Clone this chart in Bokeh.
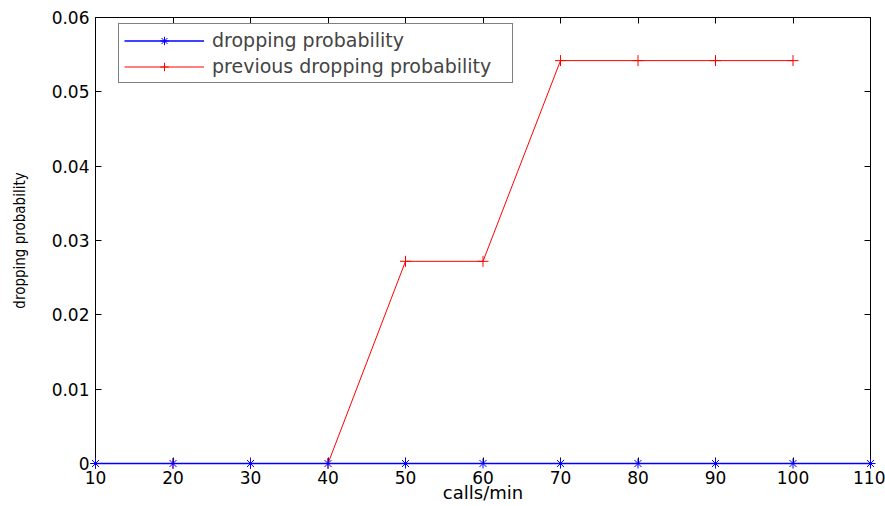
from bokeh.plotting import figure
from bokeh.models import FixedTicker, LinearAxis, Range1d, Legend, LegendItem
from bokeh.embed import file_html
from bokeh.resources import INLINE

calls = [10, 20, 30, 40, 50, 60, 70, 80, 90, 100, 110]
dropping = [0, 0, 0, 0, 0, 0, 0, 0, 0, 0, 0]
prev_calls = [10, 20, 30, 40, 50, 60, 70, 80, 90, 100]
prev_dropping = [0, 0, 0, 0, 0.0272, 0.0272, 0.0542, 0.0542, 0.0542, 0.0542]

x_ticks = [10, 20, 30, 40, 50, 60, 70, 80, 90, 100, 110]
y_ticks = [0, 0.01, 0.02, 0.03, 0.04, 0.05, 0.06]
y_tick_labels = ["0", "0.01", "0.02", "0.03", "0.04", "0.05", "0.06"]

p = figure(width=885, height=506, output_backend="svg", toolbar_location=None,
           x_range=Range1d(10, 110), y_range=Range1d(0, 0.06),
           min_border_left=95, min_border_right=15, min_border_top=17, min_border_bottom=43,
           x_axis_label="calls/min", y_axis_label="dropping probability")
p.grid.visible = False
p.outline_line_color = "black"
p.outline_line_width = 1
p.background_fill_color = "white"
p.border_fill_color = "white"

font = "DejaVu Sans"
for ax in p.xaxis + p.yaxis:
    ax.major_tick_in = 6
    ax.major_tick_out = 0
    ax.minor_tick_in = 0
    ax.minor_tick_out = 0
    ax.major_label_text_font = font
    ax.major_label_text_font_size = "17px"
    ax.major_label_text_color = "black"
    ax.axis_line_color = "black"
    ax.axis_label_text_font_style = "normal"
    ax.axis_label_text_color = "black"

p.xaxis.ticker = FixedTicker(ticks=x_ticks)
p.yaxis.ticker = FixedTicker(ticks=y_ticks)
p.yaxis.major_label_overrides = {t: l for t, l in zip(y_ticks, y_tick_labels)}
p.xaxis.major_label_standoff = 7
p.yaxis.major_label_standoff = 6
p.xaxis.axis_label_text_font = font
p.xaxis.axis_label_text_font_size = "18px"
p.xaxis.axis_label_standoff = -5
p.yaxis.axis_label_text_font = "'Liberation Sans Narrow', 'DejaVu Sans Condensed', 'Roboto Condensed', sans-serif"
p.yaxis.axis_label_text_font_size = "15px"
p.yaxis.axis_label_standoff = 20

top = LinearAxis(ticker=FixedTicker(ticks=x_ticks), major_tick_in=6, major_tick_out=0,
                 minor_tick_in=0, minor_tick_out=0, major_label_text_font_size="0px",
                 axis_line_color="black")
right = LinearAxis(ticker=FixedTicker(ticks=y_ticks), major_tick_in=6, major_tick_out=0,
                   minor_tick_in=0, minor_tick_out=0, major_label_text_font_size="0px",
                   axis_line_color="black")
top.major_label_text_color = None
right.major_label_text_color = None
p.add_layout(top, "above")
p.add_layout(right, "right")

r_prev_line = p.line(prev_calls, prev_dropping, line_color="red", line_width=1)
r_prev_mark = p.scatter(prev_calls, prev_dropping, marker="cross", size=11,
                        line_color="red", line_width=1)
r_line = p.line(calls, dropping, line_color="blue", line_width=1.5)
r_mark = p.scatter(calls, dropping, marker="asterisk", size=10,
                   line_color="blue", line_width=1)
for r in (r_prev_line, r_prev_mark, r_line, r_mark):
    r.level = "overlay"

legend = Legend(items=[
    LegendItem(label="dropping probability", renderers=[r_line, r_mark]),
    LegendItem(label="previous dropping probability", renderers=[r_prev_line, r_prev_mark]),
], location=(23, 380))
legend.label_text_font = font
legend.label_text_font_size = "19px"
legend.glyph_width = 80
legend.glyph_height = 21
legend.label_height = 21
legend.label_width = 295
legend.spacing = 4
legend.padding = 5
legend.margin = 0
legend.label_standoff = 8
legend.border_line_color = "black"
legend.border_line_width = 1.5
legend.background_fill_alpha = 1
p.add_layout(legend, "center")

open("out.html", "w").write(file_html(p, INLINE))
